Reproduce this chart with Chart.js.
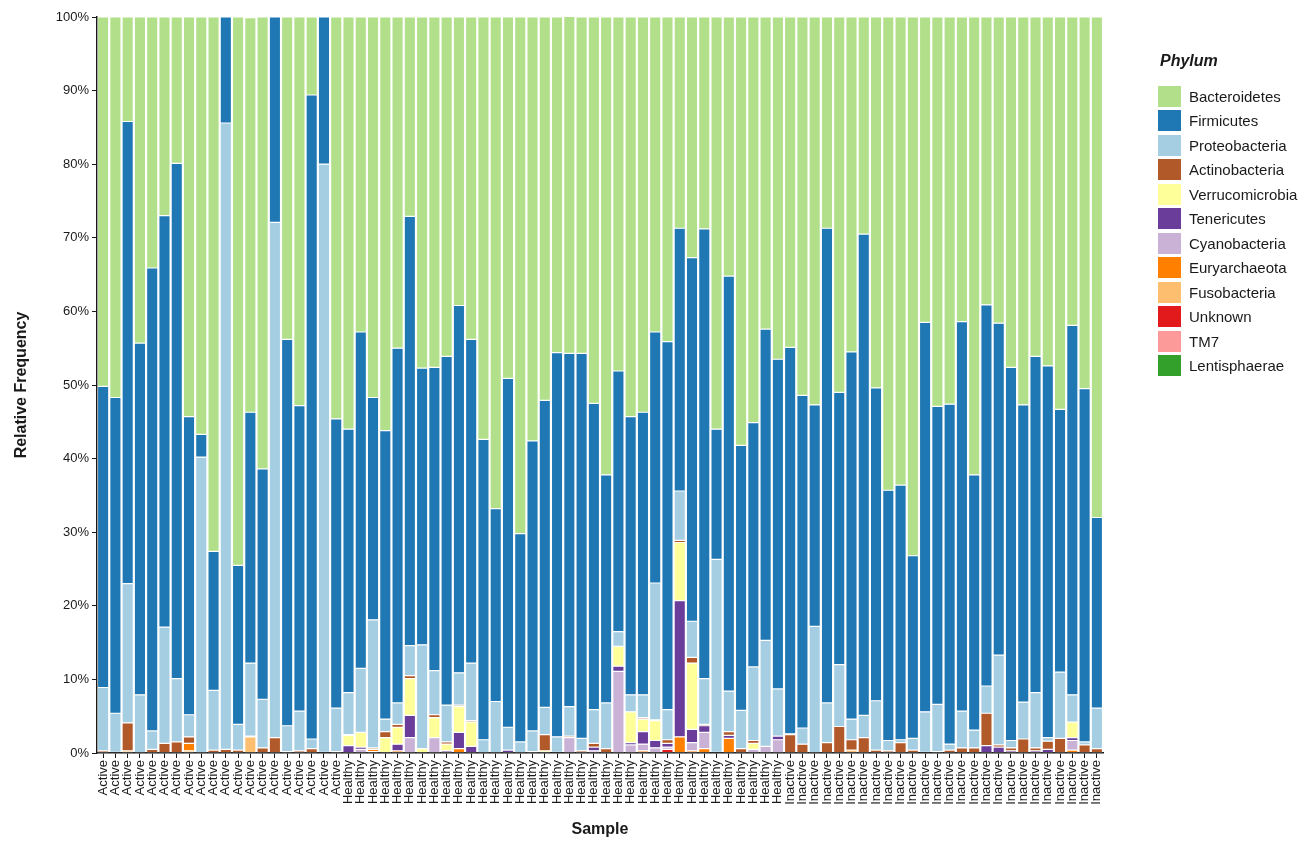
<!DOCTYPE html>
<html>
<head>
<meta charset="utf-8">
<script src="https://cdn.jsdelivr.net/npm/chart.js@4.4.1/dist/chart.umd.min.js"></script>
<style>
  html, body { margin: 0; padding: 0; background: #fff; }
  #wrap { position: relative; width: 1307px; height: 841px; overflow: hidden; }
  #chart { position: absolute; left: 0; top: 0; }
  #legend { position: absolute; left: 1158px; top: 50px; width: 149px; font-family: "Liberation Sans", Arial, sans-serif; color: #1a1a1a; white-space: nowrap; }
  #legend .title { font-weight: bold; font-style: italic; font-size: 16px; height: 22px; line-height: 22px; margin-bottom: 12px; padding-left: 2px; }
  #legend .item { height: 24.5px; display: flex; align-items: center; font-size: 15px; }
  #legend .box { width: 23px; height: 21px; margin-right: 8px; flex: none; }
</style>
</head>
<body>
<div id="wrap">
  <canvas id="chart" width="1307" height="841"></canvas>
  <div id="legend"></div>
</div>
<script>
// Sample groups, one per bar
const groups = ["Active", "Healthy", "Inactive"];
const groupSizes = [20, 36, 26];

// Relative abundance (%) per phylum, one value per sample
const bacteroidetes = [
  50.2, 51.7, 14.2, 44.3, 34.1, 27.0, 19.9, 54.3, 56.7, 72.6,
  0, 74.5, 53.6, 61.4, 0, 43.8, 52.8, 10.6, 0, 54.6,
  56.0, 42.8, 51.7, 56.2, 45.0, 27.1, 47.7, 47.6, 46.1, 39.2,
  43.8, 57.4, 66.8, 49.1, 70.2, 57.6, 52.1, 45.6, 45.8, 45.7,
  52.5, 62.2, 48.1, 54.3, 53.7, 42.8, 44.1, 28.7, 32.7, 28.8,
  56.0, 35.2, 58.2, 55.1, 42.4, 46.5, 44.9, 51.4, 52.7, 28.7,
  51.0, 45.5, 29.5, 50.4, 64.3, 63.6, 73.2, 41.5, 52.9, 52.6,
  41.4, 62.2, 39.1, 41.6, 47.6, 52.7, 46.1, 47.4, 53.3, 41.9,
  50.5, 68.0
];
const firmicutes = [
  40.9, 42.9, 62.8, 47.8, 62.9, 55.9, 70.0, 40.5, 3.1, 18.9,
  14.4, 21.6, 34.1, 31.3, 27.9, 52.5, 41.5, 87.5, 20.0, 39.3,
  35.8, 45.7, 30.2, 39.2, 48.2, 58.3, 37.6, 41.2, 47.4, 49.9,
  44.0, 40.8, 26.2, 47.4, 28.3, 39.4, 41.7, 52.2, 48.0, 52.3,
  41.6, 31.0, 35.4, 37.8, 38.4, 34.1, 50.0, 35.7, 49.4, 61.1,
  17.7, 56.4, 36.0, 33.2, 42.3, 44.8, 52.5, 45.2, 30.1, 64.5,
  37.0, 49.9, 65.4, 42.5, 34.0, 34.6, 24.8, 52.9, 40.5, 46.2,
  52.9, 34.7, 51.8, 45.1, 50.7, 40.4, 45.7, 50.5, 35.7, 50.2,
  48.0, 25.9
];
const proteobacteria = [
  8.6, 5.3, 18.9, 7.9, 2.5, 15.8, 8.6, 3.0, 40.2, 8.1,
  85.1, 3.5, 9.9, 6.6, 70.0, 3.5, 5.4, 1.3, 79.9, 5.9,
  5.7, 8.7, 17.4, 1.7, 2.9, 4.1, 14.1, 6.0, 5.0, 4.4,
  7.8, 1.8, 7.0, 3.1, 1.5, 2.8, 3.7, 2.1, 4.0, 1.7,
  4.6, 6.2, 2.0, 2.3, 3.1, 18.6, 4.1, 6.7, 4.9, 6.2,
  26.2, 5.5, 5.2, 10.0, 14.4, 6.4, 0.1, 2.2, 17.2, 5.4,
  8.4, 2.8, 3.0, 6.7, 1.4, 0.4, 1.6, 5.5, 6.4, 0.8,
  5.0, 2.4, 3.7, 12.2, 1.0, 5.0, 7.5, 0.5, 9.0, 3.7,
  0.4, 5.5
];
const actinobacteria = [
  0.3, 0.1, 3.8, 0, 0.5, 1.3, 1.5, 0.9, 0, 0.4,
  0.5, 0.4, 0.1, 0.7, 2.1, 0.2, 0.3, 0.6, 0.1, 0.2,
  0.1, 0, 0.2, 0.8, 0.4, 0.4, 0, 0.4, 0.3, 0.2,
  0.2, 0, 0, 0, 0, 0, 2.2, 0.1, 0.2, 0.3,
  0.5, 0.6, 0, 0, 0.2, 0.1, 0.5, 0.3, 0.8, 0.2,
  0.1, 0.5, 0.6, 0.4, 0, 0, 2.5, 1.2, 0, 1.4,
  3.6, 1.4, 2.1, 0.4, 0.3, 1.4, 0.4, 0.1, 0.2, 0.4,
  0.7, 0.7, 4.4, 0.3, 0.4, 1.9, 0.4, 1.1, 2.0, 0,
  1.1, 0.6
];
const verrucomicrobia = [
  0, 0, 0, 0, 0, 0, 0, 0, 0, 0,
  0, 0, 0, 0, 0, 0, 0, 0, 0, 0,
  1.4, 2.0, 0, 2.1, 2.3, 5.0, 0.6, 2.7, 0.9, 3.5,
  3.3, 0, 0, 0, 0, 0, 0.3, 0, 0, 0,
  0, 0, 2.7, 4.2, 1.7, 2.7, 0, 7.9, 9.0, 0,
  0, 0, 0, 0.8, 0, 0, 0, 0, 0, 0,
  0, 0, 0, 0, 0, 0, 0, 0, 0, 0,
  0, 0, 0, 0, 0, 0, 0, 0, 0, 2.1,
  0, 0
];
const tenericutes = [
  0, 0, 0, 0, 0, 0, 0, 0, 0, 0,
  0, 0, 0, 0, 0, 0, 0, 0, 0, 0,
  1.0, 0.3, 0, 0, 0.9, 3.0, 0, 0, 0.3, 2.2,
  0.9, 0, 0, 0.4, 0, 0, 0, 0, 0, 0,
  0.5, 0, 0.7, 0.3, 1.7, 1.0, 0.5, 18.5, 1.8, 0.9,
  0, 0.4, 0, 0, 0, 0.5, 0, 0, 0, 0,
  0, 0, 0, 0, 0, 0, 0, 0, 0, 0,
  0, 0, 1.0, 0.8, 0.3, 0, 0.3, 0.5, 0, 0.4,
  0, 0
];
const cyanobacteria = [
  0, 0, 0, 0, 0, 0, 0, 0, 0, 0,
  0, 0, 0, 0, 0, 0, 0, 0, 0, 0,
  0, 0.5, 0, 0, 0, 2.1, 0, 2.1, 0, 0,
  0, 0, 0, 0, 0, 0, 0, 0, 2.1, 0,
  0.3, 0, 11.1, 1.1, 0.9, 0.7, 0.3, 0, 1.1, 2.2,
  0, 0, 0, 0.5, 0.9, 1.8, 0, 0, 0, 0,
  0, 0, 0, 0, 0, 0, 0, 0, 0, 0,
  0, 0, 0, 0, 0, 0, 0, 0, 0, 1.3,
  0, 0
];
const euryarchaeota = [
  0, 0, 0, 0, 0, 0, 0, 1.0, 0, 0,
  0, 0, 0, 0, 0, 0, 0, 0, 0, 0,
  0, 0, 0.3, 0, 0.3, 0, 0, 0, 0, 0.6,
  0, 0, 0, 0, 0, 0, 0, 0, 0, 0,
  0, 0, 0, 0, 0.3, 0, 0, 2.2, 0.3, 0.6,
  0, 2.0, 0, 0, 0, 0, 0, 0, 0, 0,
  0, 0, 0, 0, 0, 0, 0, 0, 0, 0,
  0, 0, 0, 0, 0, 0, 0, 0, 0, 0.4,
  0, 0
];
const fusobacteria = [
  0, 0, 0.3, 0, 0, 0, 0, 0.3, 0, 0,
  0, 0, 2.2, 0, 0, 0, 0, 0, 0, 0,
  0, 0, 0.2, 0, 0, 0, 0, 0, 0, 0,
  0, 0, 0, 0, 0, 0.2, 0, 0, 0, 0,
  0, 0, 0, 0, 0, 0, 0, 0, 0, 0,
  0, 0, 0, 0, 0, 0, 0, 0, 0, 0,
  0, 0.4, 0, 0, 0, 0, 0, 0, 0, 0,
  0, 0, 0, 0, 0, 0, 0, 0, 0, 0,
  0, 0
];
const unknown = [
  0, 0, 0, 0, 0, 0, 0, 0, 0, 0,
  0, 0, 0, 0, 0, 0, 0, 0, 0, 0,
  0, 0, 0, 0, 0, 0, 0, 0, 0, 0,
  0, 0, 0, 0, 0, 0, 0, 0, 0, 0,
  0, 0, 0, 0, 0, 0, 0.5, 0, 0, 0,
  0, 0, 0, 0, 0, 0, 0, 0, 0, 0,
  0, 0, 0, 0, 0, 0, 0, 0, 0, 0,
  0, 0, 0, 0, 0, 0, 0, 0, 0, 0,
  0, 0
];
const tm7 = new Array(82).fill(0);
const lentisphaerae = new Array(82).fill(0);

// Y axis tick values
const yTicks = [0, 10, 20, 30, 40, 50, 60, 70, 80, 90, 100];

// Category labels: each bar is labelled with its group
const categories = [];
groups.forEach((g, i) => { for (let k = 0; k < groupSizes[i]; k++) categories.push(g); });

// Legend order (top to bottom); bars stack in the reverse order
const phyla = [
  { name: "Bacteroidetes",   color: "#b2df8a", data: bacteroidetes },
  { name: "Firmicutes",      color: "#1f78b4", data: firmicutes },
  { name: "Proteobacteria",  color: "#a6cee3", data: proteobacteria },
  { name: "Actinobacteria",  color: "#b15928", data: actinobacteria },
  { name: "Verrucomicrobia", color: "#ffff99", data: verrucomicrobia },
  { name: "Tenericutes",     color: "#6a3d9a", data: tenericutes },
  { name: "Cyanobacteria",   color: "#cab2d6", data: cyanobacteria },
  { name: "Euryarchaeota",   color: "#ff7f00", data: euryarchaeota },
  { name: "Fusobacteria",    color: "#fdbf6f", data: fusobacteria },
  { name: "Unknown",         color: "#e31a1c", data: unknown },
  { name: "TM7",             color: "#fb9a99", data: tm7 },
  { name: "Lentisphaerae",   color: "#33a02c", data: lentisphaerae }
];

const datasets = phyla.slice().reverse().map(p => ({
  label: p.name,
  data: p.data,
  backgroundColor: p.color,
  borderColor: "rgba(255,255,255,0.75)",
  borderWidth: 0.6,
  borderSkipped: false,
  barPercentage: 0.92,
  categoryPercentage: 1.0
}));

const FONT = "'Liberation Sans', Arial, sans-serif";

new Chart(document.getElementById("chart"), {
  type: "bar",
  data: { labels: categories, datasets },
  options: {
    responsive: false,
    animation: false,
    layout: { padding: { left: 0, right: 204, top: 17, bottom: 0 } },
    plugins: { legend: { display: false }, tooltip: { enabled: false } },
    scales: {
      x: {
        stacked: true,
        grid: { display: true, drawOnChartArea: false, drawTicks: true, tickLength: 5, color: "#1a1a1a", offset: false },
        border: { display: true, color: "#1a1a1a", width: 1.5 },
        ticks: {
          autoSkip: false, maxRotation: 90, minRotation: 90, padding: 2,
          color: "#1a1a1a", font: { family: FONT, size: 13 }
        },
        title: { display: true, text: "Sample", color: "#1a1a1a", font: { family: FONT, size: 16, weight: "bold" }, padding: { top: 4, bottom: 2 } },
        afterFit: s => { s.height = 88; }
      },
      y: {
        stacked: true,
        min: 0, max: 100,
        afterBuildTicks: s => { s.ticks = yTicks.map(v => ({ value: v })); },
        grid: { display: true, drawOnChartArea: false, drawTicks: true, tickLength: 5, color: "#1a1a1a" },
        border: { display: true, color: "#1a1a1a", width: 1.5 },
        ticks: { padding: 3, color: "#1a1a1a", font: { family: FONT, size: 13 }, callback: v => v + "%" },
        title: { display: true, text: "Relative Frequency", color: "#1a1a1a", font: { family: FONT, size: 16, weight: "bold" }, padding: { top: 12, bottom: 0 } },
        afterFit: s => { s.width = 97; }
      }
    }
  }
});

// Legend
const legend = document.getElementById("legend");
const t = document.createElement("div");
t.className = "title";
t.textContent = "Phylum";
legend.appendChild(t);
phyla.forEach(p => {
  const row = document.createElement("div");
  row.className = "item";
  const b = document.createElement("span");
  b.className = "box";
  b.style.background = p.color;
  const l = document.createElement("span");
  l.textContent = p.name;
  row.appendChild(b);
  row.appendChild(l);
  legend.appendChild(row);
});
</script>
</body>
</html>
